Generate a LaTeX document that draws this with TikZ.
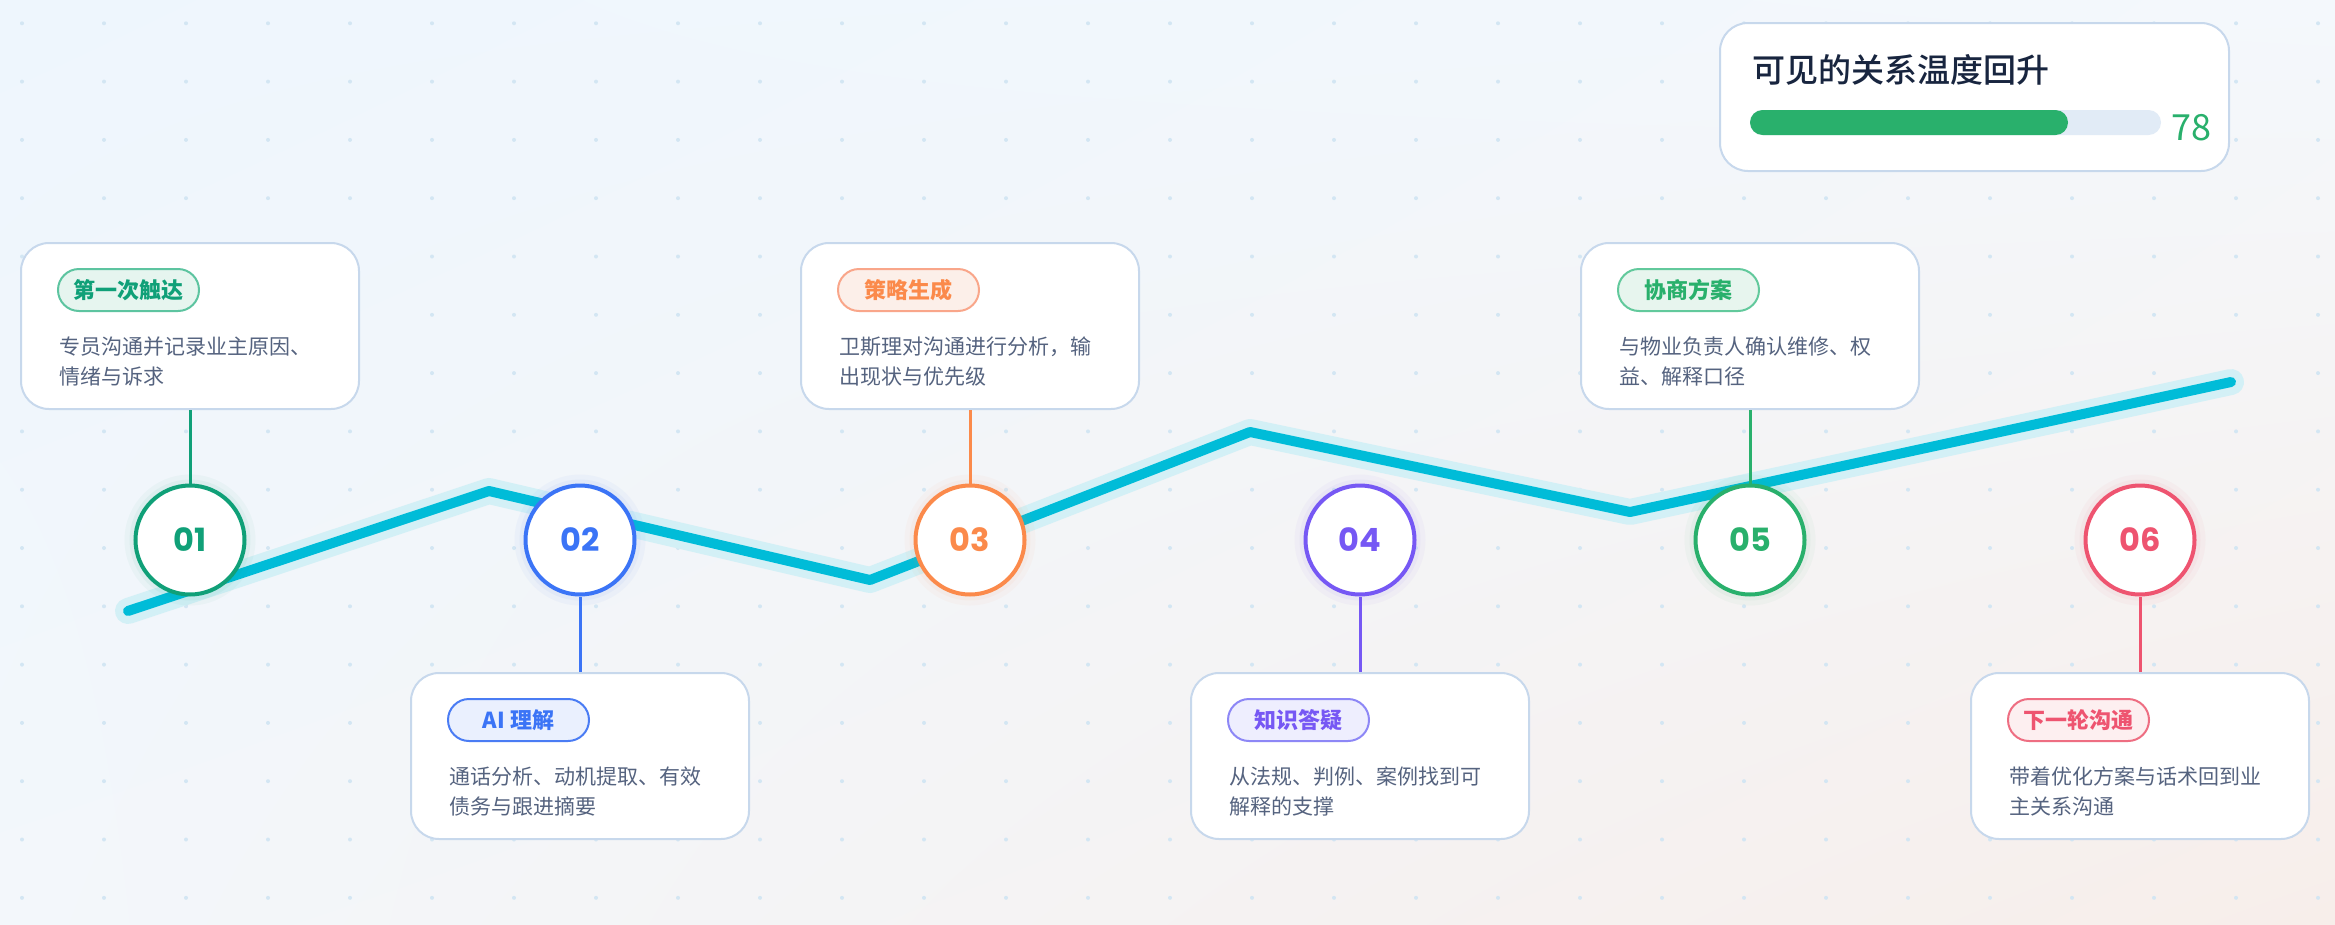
\documentclass[tikz,border=0pt]{standalone}
\usepackage{fontspec}
\setmainfont{Noto Sans CJK SC}
\newfontfamily\numfont{Poppins}
\newfontfamily\medfont{Noto Sans CJK SC Medium}
\usetikzlibrary{calc,shadings}

\definecolor{bgtl}{HTML}{EEF6FD}
\definecolor{bgtr}{HTML}{F4F8FC}
\definecolor{bgbl}{HTML}{F3F7FB}
\definecolor{bgbr}{HTML}{F7EEEA}
\definecolor{dotc}{HTML}{D3E6F3}
\definecolor{cardline}{HTML}{C7D8EC}
\definecolor{bodytext}{HTML}{55637F}
\definecolor{titletext}{HTML}{18253F}
\definecolor{track}{HTML}{E1EBF6}
\definecolor{trail}{HTML}{00BCD8}
\definecolor{trailhalo}{HTML}{D3F0F6}
\definecolor{trailshade}{HTML}{DFE7F4}
% step colours: ring, tag fill, tag border
\definecolor{sgreen}{HTML}{10A078}
\definecolor{sgreenbg}{HTML}{E6F5EF}
\definecolor{sgreenln}{HTML}{5DC4A0}
\definecolor{sblue}{HTML}{3B74F6}
\definecolor{sbluebg}{HTML}{EAF0FE}
\definecolor{sblueln}{HTML}{4A7CF4}
\definecolor{sorange}{HTML}{FB8A4B}
\definecolor{sorangebg}{HTML}{FCEFE9}
\definecolor{sorangeln}{HTML}{F9A68A}
\definecolor{spurple}{HTML}{7658F4}
\definecolor{spurplebg}{HTML}{EEEEFE}
\definecolor{spurpleln}{HTML}{8D87F6}
\definecolor{sleaf}{HTML}{29B06C}
\definecolor{sleafbg}{HTML}{E7F5EE}
\definecolor{sleafln}{HTML}{62C99C}
\definecolor{sred}{HTML}{EE5470}
\definecolor{sredbg}{HTML}{FDEFF0}
\definecolor{sredln}{HTML}{EE6E82}

\begin{document}
\begin{tikzpicture}[x=1pt,y=-1pt,
  card/.style={draw=cardline,line width=2pt,fill=white,rounded corners=28pt,
    minimum width=338pt,minimum height=166pt,inner sep=0pt},
  tag/.style={line width=2pt,rounded corners=21pt,minimum width=141pt,
    minimum height=42pt,inner sep=0pt,font=\fontsize{22}{26}\selectfont\bfseries},
  body/.style={anchor=north west,inner sep=0pt,align=left,text=bodytext,
    font=\fontsize{21}{30}\selectfont},
  stepdot/.style={circle,line width=4pt,fill=white,minimum size=109pt,inner sep=0pt,
    font=\numfont\fontsize{32}{36}\selectfont\bfseries,
    preaction={draw,draw opacity=0.04,line width=22pt},
    preaction={draw,draw opacity=0.05,line width=12pt}},
  link/.style={line width=3pt}]
\useasboundingbox (0,0) rectangle (2335,924);
\shade[upper left=bgtl,upper right=bgtr,lower left=bgbl,lower right=bgbr] (0,0) rectangle (2335,924);
\foreach \i in {0,...,28}
  \foreach \j in {0,...,15}
    \fill[dotc] (22+82*\i,23.3+58.3*\j) circle (2);

% trail
\coordinate (p0) at (128,611);
\coordinate (p1) at (489,491);
\coordinate (p2) at (870,580);
\coordinate (p3) at (1250,432);
\coordinate (p4) at (1630,512);
\coordinate (p5) at (2231,382);
\draw[trailshade,line width=24pt,line cap=round,line join=round,yshift=-5pt] (p0) -- (p1) -- (p2) -- (p3) -- (p4) -- (p5);
\draw[trailhalo,line width=26pt,line cap=round,line join=round] (p0) -- (p1) -- (p2) -- (p3) -- (p4) -- (p5);
\draw[trail,line width=10pt,line cap=round,line join=round] (p0) -- (p1) -- (p2) -- (p3) -- (p4) -- (p5);

% cards
\node[card] (card1) at (190,326) {};
\node[tag,fill=sgreenbg,draw=sgreenln,text=sgreen] (tag1) at (128.5,290) {第一次触达};
\node[body] (text1) at (59,337) {专员沟通并记录业主原因、\\情绪与诉求};
\node[card] (card2) at (580,756) {};
\node[tag,fill=sbluebg,draw=sblueln,text=sblue] (tag2) at (518.5,720) {AI 理解};
\node[body] (text2) at (449,767) {通话分析、动机提取、有效\\债务与跟进摘要};
\node[card] (card3) at (970,326) {};
\node[tag,fill=sorangebg,draw=sorangeln,text=sorange] (tag3) at (908.5,290) {策略生成};
\node[body] (text3) at (839,337) {卫斯理对沟通进行分析，输\\出现状与优先级};
\node[card] (card4) at (1360,756) {};
\node[tag,fill=spurplebg,draw=spurpleln,text=spurple] (tag4) at (1298.5,720) {知识答疑};
\node[body] (text4) at (1229,767) {从法规、判例、案例找到可\\解释的支撑};
\node[card] (card5) at (1750,326) {};
\node[tag,fill=sleafbg,draw=sleafln,text=sleaf] (tag5) at (1688.5,290) {协商方案};
\node[body] (text5) at (1619,337) {与物业负责人确认维修、权\\益、解释口径};
\node[card] (card6) at (2140,756) {};
\node[tag,fill=sredbg,draw=sredln,text=sred] (tag6) at (2078.5,720) {下一轮沟通};
\node[body] (text6) at (2009,767) {带着优化方案与话术回到业\\主关系沟通};

% steps
\node[stepdot,draw=sgreen,text=sgreen] (dot1) at (190,540) {01};
\node[stepdot,draw=sblue,text=sblue] (dot2) at (580,540) {02};
\node[stepdot,draw=sorange,text=sorange] (dot3) at (970,540) {03};
\node[stepdot,draw=spurple,text=spurple] (dot4) at (1360,540) {04};
\node[stepdot,draw=sleaf,text=sleaf] (dot5) at (1750,540) {05};
\node[stepdot,draw=sred,text=sred] (dot6) at (2140,540) {06};
\draw[link,sgreen] (card1.south) -- (dot1.north);
\draw[link,sblue] (dot2.south) -- (card2.north);
\draw[link,sorange] (card3.south) -- (dot3.north);
\draw[link,spurple] (dot4.south) -- (card4.north);
\draw[link,sleaf] (card5.south) -- (dot5.north);
\draw[link,sred] (dot6.south) -- (card6.north);

% score
\node[card,minimum width=509pt,minimum height=148pt] (score) at (1974.5,97) {};
\node[anchor=west,inner sep=0pt,text=titletext,font=\medfont\fontsize{33}{38}\selectfont] (scoretitle) at (1752,70) {可见的关系温度回升};
\fill[track,rounded corners=12.5pt] (1750,110) rectangle (2161,135);
\fill[sleaf,rounded corners=12.5pt] (1750,110) rectangle (2068,135);
\node[anchor=west,inner sep=0pt,text=sleaf,font=\fontsize{36}{40}\selectfont] (scoreval) at (2171,128) {78};
\end{tikzpicture}
\end{document}
